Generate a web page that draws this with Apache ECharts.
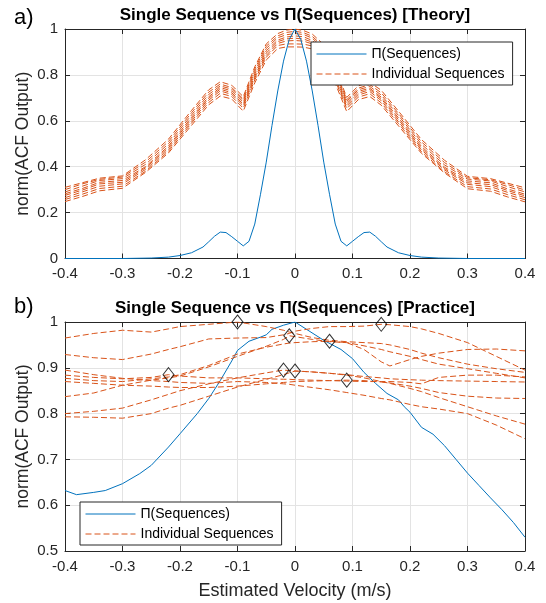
<!DOCTYPE html>
<html>
<head>
<meta charset="utf-8">
<script src="https://cdn.jsdelivr.net/npm/echarts@6/dist/echarts.min.js"></script>
<style>
html,body{margin:0;padding:0;background:#fff;}
#chart{width:546px;height:603px;}
</style>
</head>
<body>
<div id="chart"></div>
<script>
// ---------- Data ----------
const xTicks = [-0.4, -0.3, -0.2, -0.1, 0, 0.1, 0.2, 0.3, 0.4];

// Panel a) Theory : product curve
const theoryProdX = [-0.4,-0.3,-0.25,-0.22,-0.2,-0.18,-0.16,-0.15,-0.14,-0.13,-0.12,-0.11,-0.1,-0.09,-0.08,-0.07,-0.06,-0.05,-0.04,-0.03,-0.02,-0.01,0,0.01,0.02,0.03,0.04,0.05,0.06,0.07,0.08,0.09,0.1,0.11,0.12,0.13,0.14,0.15,0.16,0.18,0.2,0.22,0.25,0.3,0.4];
const theoryProdY = [0,0,0.002,0.006,0.013,0.025,0.05,0.073,0.097,0.115,0.113,0.095,0.075,0.055,0.075,0.15,0.28,0.42,0.58,0.73,0.86,0.955,1.0,0.955,0.86,0.73,0.58,0.42,0.28,0.15,0.075,0.055,0.075,0.095,0.113,0.115,0.097,0.073,0.05,0.025,0.013,0.006,0.002,0,0];

// Panel a) Theory : individual sequences (shared x)
const theorySeqX = [-0.4,-0.37,-0.34,-0.3,-0.26,-0.22,-0.18,-0.15,-0.13,-0.11,-0.09,-0.07,-0.05,-0.03,-0.015,0,0.015,0.03,0.05,0.07,0.09,0.11,0.13,0.15,0.18,0.22,0.26,0.3,0.34,0.37,0.4];
const theorySeq1 = [0.31,0.33,0.35,0.36,0.43,0.52,0.645,0.735,0.77,0.755,0.705,0.835,0.935,0.98,0.995,1.0,0.993,0.978,0.932,0.832,0.702,0.752,0.768,0.733,0.642,0.518,0.428,0.358,0.348,0.328,0.308];
const theorySeq2 = [0.30,0.325,0.345,0.355,0.42,0.51,0.635,0.725,0.76,0.745,0.695,0.825,0.925,0.97,0.985,0.99,0.984,0.968,0.922,0.822,0.692,0.742,0.758,0.722,0.632,0.508,0.418,0.352,0.343,0.322,0.298];
const theorySeq3 = [0.29,0.315,0.34,0.348,0.41,0.50,0.625,0.715,0.752,0.738,0.688,0.815,0.915,0.962,0.975,0.98,0.976,0.96,0.913,0.812,0.686,0.735,0.75,0.712,0.623,0.498,0.408,0.346,0.338,0.313,0.29];
const theorySeq4 = [0.282,0.305,0.332,0.34,0.40,0.49,0.615,0.705,0.745,0.73,0.68,0.805,0.905,0.952,0.965,0.97,0.966,0.95,0.903,0.803,0.678,0.728,0.742,0.703,0.613,0.488,0.398,0.338,0.33,0.303,0.28];
const theorySeq5 = [0.275,0.298,0.325,0.332,0.395,0.483,0.607,0.698,0.738,0.722,0.672,0.795,0.895,0.945,0.957,0.96,0.956,0.943,0.894,0.794,0.67,0.72,0.736,0.696,0.605,0.48,0.392,0.33,0.322,0.296,0.273];
const theorySeq6 = [0.265,0.29,0.315,0.325,0.388,0.475,0.598,0.69,0.73,0.715,0.665,0.787,0.885,0.937,0.948,0.95,0.947,0.935,0.884,0.786,0.662,0.712,0.728,0.688,0.596,0.473,0.386,0.323,0.313,0.288,0.265];
const theorySeq7 = [0.257,0.28,0.305,0.315,0.38,0.467,0.59,0.68,0.72,0.706,0.655,0.778,0.877,0.928,0.935,0.935,0.934,0.926,0.875,0.776,0.653,0.703,0.718,0.678,0.588,0.465,0.378,0.313,0.303,0.278,0.256];
const theorySeq8 = [0.248,0.27,0.295,0.306,0.375,0.46,0.58,0.67,0.708,0.695,0.642,0.765,0.865,0.915,0.922,0.922,0.921,0.913,0.863,0.763,0.64,0.692,0.706,0.668,0.578,0.458,0.373,0.304,0.293,0.268,0.247];

// Panel b) Practice : product curve
const practiceProdX = [-0.4,-0.38,-0.35,-0.33,-0.3,-0.27,-0.25,-0.22,-0.2,-0.17,-0.15,-0.13,-0.11,-0.1,-0.08,-0.06,-0.05,-0.04,-0.02,0,0.02,0.05,0.08,0.1,0.12,0.14,0.16,0.18,0.19,0.2,0.22,0.24,0.26,0.28,0.3,0.32,0.34,0.36,0.38,0.4];
const practiceProdY = [0.632,0.623,0.628,0.632,0.647,0.669,0.687,0.727,0.756,0.80,0.833,0.872,0.915,0.938,0.958,0.967,0.972,0.984,0.993,1.0,0.984,0.96,0.94,0.92,0.89,0.866,0.844,0.83,0.815,0.803,0.77,0.755,0.73,0.70,0.670,0.643,0.616,0.59,0.562,0.53];

// Panel b) Practice : individual sequences (shared x)
const practiceSeqX = [-0.4,-0.35,-0.3,-0.25,-0.22,-0.2,-0.15,-0.1,-0.05,-0.02,-0.01,0,0.03,0.06,0.09,0.12,0.15,0.165,0.2,0.22,0.25,0.3,0.35,0.4];
const practiceSeq1 = [0.965,0.975,0.982,0.978,0.985,0.99,0.995,1.0,0.99,0.982,0.978,0.975,0.966,0.96,0.957,0.955,0.953,0.95,0.94,0.932,0.922,0.908,0.898,0.89];
const practiceSeq2 = [0.929,0.922,0.918,0.93,0.94,0.946,0.963,0.965,0.966,0.972,0.975,0.98,0.986,0.99,0.99,0.991,0.995,0.994,0.99,0.985,0.975,0.955,0.925,0.895];
const practiceSeq3 = [0.837,0.845,0.862,0.873,0.878,0.882,0.902,0.925,0.947,0.962,0.97,0.968,0.962,0.957,0.955,0.948,0.94,0.935,0.925,0.918,0.908,0.898,0.888,0.878];
const practiceSeq4 = [0.877,0.872,0.87,0.876,0.88,0.885,0.905,0.93,0.945,0.952,0.954,0.955,0.957,0.958,0.955,0.94,0.913,0.904,0.918,0.925,0.932,0.94,0.941,0.937];
const practiceSeq5 = [0.884,0.879,0.876,0.879,0.885,0.882,0.878,0.878,0.876,0.875,0.875,0.874,0.873,0.872,0.871,0.87,0.87,0.87,0.868,0.865,0.879,0.884,0.884,0.88];
const practiceSeq6 = [0.8,0.805,0.812,0.83,0.842,0.85,0.865,0.878,0.889,0.895,0.894,0.893,0.891,0.888,0.885,0.881,0.878,0.876,0.874,0.873,0.872,0.871,0.87,0.869];
const practiceSeq7 = [0.793,0.792,0.79,0.8,0.812,0.818,0.838,0.858,0.875,0.885,0.889,0.893,0.891,0.888,0.884,0.878,0.87,0.866,0.855,0.848,0.835,0.815,0.795,0.777];
const practiceSeq8 = [0.87,0.866,0.862,0.86,0.858,0.857,0.857,0.86,0.865,0.868,0.869,0.87,0.871,0.872,0.873,0.872,0.869,0.867,0.86,0.855,0.846,0.838,0.834,0.833];
const practiceSeq9 = [0.895,0.885,0.877,0.872,0.87,0.868,0.866,0.87,0.868,0.865,0.864,0.862,0.857,0.852,0.846,0.84,0.833,0.83,0.82,0.815,0.81,0.8,0.775,0.745];

// Panel b) peak markers
const peakX = [-0.22,-0.1,-0.02,-0.01,0,0.06,0.09,0.15];
const peakY = [0.885,1.0,0.895,0.97,0.893,0.958,0.873,0.995];

// Labels
const prodName = 'Π(Sequences)';
const seqName = 'Individual Sequences';
const titleA = 'Single Sequence vs Π(Sequences) [Theory]';
const titleB = 'Single Sequence vs Π(Sequences) [Practice]';
const yName = 'norm(ACF Output)';
const xName = 'Estimated Velocity (m/s)';

// ---------- Chart ----------
const FONT = "'Liberation Sans', Arial, Helvetica, sans-serif";
const AX = '#262626';
const BLUE = '#0072BD';
const ORANGE = '#D95319';

function pairs(xs, ys){ return xs.map((x,i)=>[x, ys[i]]); }

function xAxisCfg(grid, pos, main, name){
  return {
    type:'value', gridIndex:grid, position:pos, min:-0.4, max:0.4, interval:0.1,
    axisLine:{show:true, onZero:false, lineStyle:{color:AX, width:1}},
    axisTick:{show:true, inside:true, length:5, lineStyle:{color:AX}},
    axisLabel:{show:main, color:AX, fontSize:15, fontFamily:FONT, margin:8},
    splitLine:{show:main, lineStyle:{color:'#e3e3e3', width:1}},
    name: name || '', nameLocation:'middle', nameGap:31, nameMoveOverlap:false,
    nameTextStyle:{color:AX, fontSize:18, fontFamily:FONT}
  };
}
function yAxisCfg(grid, pos, main, min, max, interval){
  return {
    type:'value', gridIndex:grid, position:pos, min:min, max:max, interval:interval,
    axisLine:{show:true, onZero:false, lineStyle:{color:AX, width:1}},
    axisTick:{show:true, inside:true, length:5, lineStyle:{color:AX}},
    axisLabel:{show:main, color:AX, fontSize:15, fontFamily:FONT, margin:7},
    splitLine:{show:main, lineStyle:{color:'#e3e3e3', width:1}},
    name: main ? yName : '', nameLocation:'middle', nameGap:33, nameMoveOverlap:false,
    nameTextStyle:{color:AX, fontSize:17.5, fontFamily:FONT}
  };
}

const series = [];
series.push({name:prodName, type:'line', xAxisIndex:0, yAxisIndex:0, symbol:'none', data:pairs(theoryProdX, theoryProdY), lineStyle:{color:BLUE, width:1}, itemStyle:{color:BLUE}, z:3});
[theorySeq1,theorySeq2,theorySeq3,theorySeq4,theorySeq5,theorySeq6,theorySeq7,theorySeq8].forEach(s=>{
  series.push({name:seqName, type:'line', xAxisIndex:0, yAxisIndex:0, symbol:'none', data:pairs(theorySeqX, s), lineStyle:{color:ORANGE, width:1, type:[6,3]}, itemStyle:{color:ORANGE}, z:2});
});
series.push({name:prodName, type:'line', xAxisIndex:1, yAxisIndex:1, symbol:'none', data:pairs(practiceProdX, practiceProdY), lineStyle:{color:BLUE, width:1}, itemStyle:{color:BLUE}, z:2});
[practiceSeq1,practiceSeq2,practiceSeq3,practiceSeq4,practiceSeq5,practiceSeq6,practiceSeq7,practiceSeq8,practiceSeq9].forEach(s=>{
  series.push({name:seqName, type:'line', xAxisIndex:1, yAxisIndex:1, symbol:'none', data:pairs(practiceSeqX, s), lineStyle:{color:ORANGE, width:1, type:[6,3]}, itemStyle:{color:ORANGE}, z:2});
});
series.push({name:'peaks', type:'scatter', xAxisIndex:1, yAxisIndex:1, symbol:'diamond', symbolSize:[11,14], clip:false,
  data:pairs(peakX, peakY), itemStyle:{color:'rgba(0,0,0,0)', borderColor:'#000', borderWidth:1}, z:5});

function legendCfg(left, top){
  return {
    data:[prodName, seqName], left:left, top:top, orient:'vertical',
    padding:[5,8,4,5], itemGap:6, itemWidth:50, itemHeight:14,
    itemStyle:{opacity:0}, lineStyle:{width:1},
    backgroundColor:'#fff', borderColor:AX, borderWidth:1, borderRadius:0,
    textStyle:{color:'#000', fontSize:14, fontFamily:FONT}, selectedMode:false, z:10
  };
}

const option = {
  animation:false,
  backgroundColor:'#fff',
  grid:[
    {left:65, top:29, width:460, height:229.5},
    {left:65, top:322, width:460, height:229}
  ],
  xAxis:[
    xAxisCfg(0,'bottom',true),
    xAxisCfg(1,'bottom',true,xName),
    xAxisCfg(0,'top',false),
    xAxisCfg(1,'top',false)
  ],
  yAxis:[
    yAxisCfg(0,'left',true,0,1,0.2),
    yAxisCfg(1,'left',true,0.5,1,0.1),
    yAxisCfg(0,'right',false,0,1,0.2),
    yAxisCfg(1,'right',false,0.5,1,0.1)
  ],
  legend:[legendCfg(311,42), legendCfg(80,502)],
  graphic:[
    {type:'text', x:14, y:18, style:{text:'a)', font:'22px '+FONT, fill:'#000', textVerticalAlign:'middle'}},
    {type:'text', x:14, y:307, style:{text:'b)', font:'22px '+FONT, fill:'#000', textVerticalAlign:'middle'}},
    {type:'text', x:295, y:15, style:{text:titleA, font:'bold 17px '+FONT, fill:'#000', textAlign:'center', textVerticalAlign:'middle'}},
    {type:'text', x:295, y:308, style:{text:titleB, font:'bold 17px '+FONT, fill:'#000', textAlign:'center', textVerticalAlign:'middle'}}
  ],
  series:series
};

const chart = echarts.init(document.getElementById('chart'), null, {renderer:'canvas'});
chart.setOption(option);
</script>
</body>
</html>
